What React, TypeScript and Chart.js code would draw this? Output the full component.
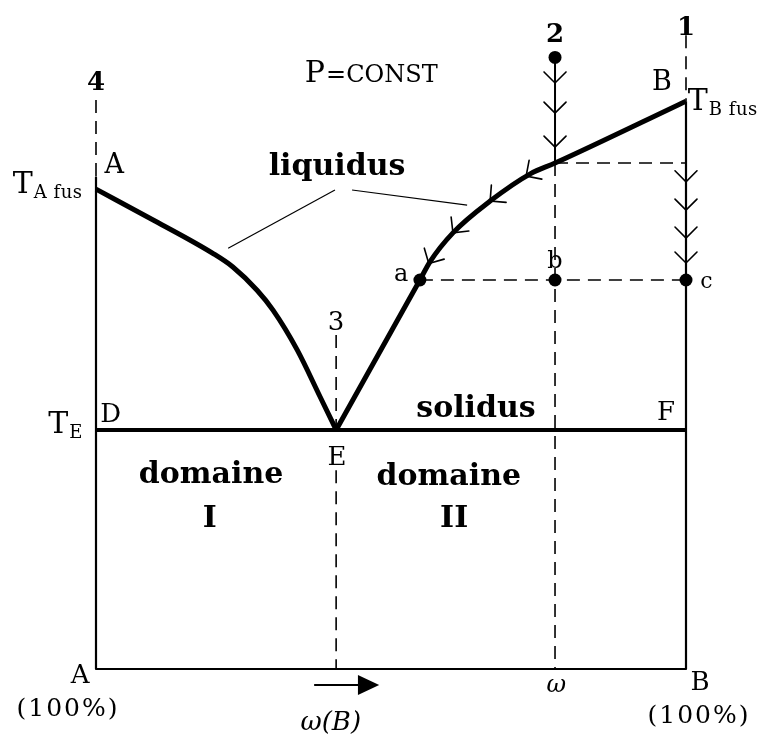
import React, { useEffect, useRef } from "react";
import { Chart, registerables } from "chart.js";

Chart.register(...registerables);

// Binary eutectic diagram: composition ω(B) in %, temperature in relative units (T_B fus = 100)
const liquidusAX = [0, 10, 19.8, 23.2, 27.3, 30, 34.1, 38, 40.7];
const liquidusAT = [84.5, 78.9, 73.2, 70.8, 66.7, 63.2, 56.2, 47.9, 42.1];
const liquidusBX = [40.7, 47.8, 54.9, 56.6, 60.5, 66.8, 73.6, 77.8, 100];
const liquidusBT = [42.1, 55.3, 68.5, 71.7, 76.8, 82.4, 87.2, 89.1, 100];

const T_B_FUS = 100;
const T_E = 42.1;
const X_E = 40.7;
const OMEGA = 77.8; // composition of alloy 2
const T_LIQ_OMEGA = 89.1; // alloy 2 reaches the liquidus
const T_ABC = 68.5; // isotherm a-b-c
const X_POINT_A = 54.9;
const T_START = 107.7; // initial state of alloy 2

// marked states: start of alloy 2, a, b, c
const stateX = [OMEGA, X_POINT_A, OMEGA, 100];
const stateT = [T_START, T_ABC, T_ABC, T_ABC];

// cooling arrows along the verticals 2 and 1, and along the liquidus
const cooling2T = [103.2, 97.9, 91.9];
const cooling1T = [85.8, 80.8, 75.9, 71.5];
const liquidusArrowX = [72.9, 66.8, 60.5, 56.4];
const liquidusArrowT = [86.8, 82.4, 76.8, 71.4];

const AXIS_TOP_A = 86.6;
const GUIDE_TOP_4 = 100.2;
const GUIDE_TOP_1 = 111.6;
const GUIDE_TOP_3 = 58.8;
const GUIDE_GAP_3 = 35.0;

const SERIF = "'DejaVu Serif', 'Liberation Serif', serif";

type Pt = { x: number; y: number };
const pts = (xs: number[], ts: number[]): Pt[] => xs.map((x, i) => ({ x, y: ts[i] }));

type Label = {
  text: string;
  x: number;
  t: number;
  font: string;
  align?: CanvasTextAlign;
  sub?: string;
  subFont?: string;
  spacing?: string;
};

const labels: Label[] = [
  { text: "4", x: 0, t: 102, font: `bold 26px ${SERIF}`, align: "center" },
  { text: "A", x: 3.1, t: 87.3, font: `27px ${SERIF}`, align: "center" },
  { text: "T", sub: "A fus", x: -14.1, t: 83.8, font: `30px ${SERIF}`, subFont: `18px ${SERIF}`, align: "left", spacing: "0.5px" },
  { text: "P", sub: "=CONST", x: 35.4, t: 103.4, font: `30px ${SERIF}`, subFont: `24px ${SERIF}`, align: "left" },
  { text: "liquidus", x: 40.85, t: 87.0, font: `bold 30px ${SERIF}`, align: "center" },
  { text: "B", x: 95.9, t: 102, font: `27px ${SERIF}`, align: "center" },
  { text: "T", sub: "B fus", x: 100.3, t: 98.4, font: `30px ${SERIF}`, subFont: `18px ${SERIF}`, align: "left", spacing: "0.5px" },
  { text: "1", x: 100, t: 111.6, font: `bold 26px ${SERIF}`, align: "center" },
  { text: "2", x: 77.8, t: 110.4, font: `bold 26px ${SERIF}`, align: "center" },
  { text: "a", x: 51.7, t: 68.3, font: `24px ${SERIF}`, align: "center" },
  { text: "b", x: 77.8, t: 70.6, font: `24px ${SERIF}`, align: "center" },
  { text: "c", x: 102.4, t: 67.1, font: `22px ${SERIF}`, align: "left" },
  { text: "3", x: 40.7, t: 59.7, font: `26px ${SERIF}`, align: "center" },
  { text: "D", x: 0.7, t: 43.5, font: `26px ${SERIF}`, align: "left" },
  { text: "T", sub: "E", x: -8.1, t: 41.6, font: `30px ${SERIF}`, subFont: `18px ${SERIF}`, align: "left" },
  { text: "solidus", x: 64.4, t: 44.4, font: `bold 30px ${SERIF}`, align: "center" },
  { text: "F", x: 96.6, t: 43.85, font: `26px ${SERIF}`, align: "center" },
  { text: "E", x: 40.85, t: 35.9, font: `26px ${SERIF}`, align: "center" },
  { text: "domaine", x: 19.5, t: 32.75, font: `bold 30px ${SERIF}`, align: "center" },
  { text: "I", x: 19.3, t: 25.0, font: `bold 30px ${SERIF}`, align: "center" },
  { text: "domaine", x: 59.8, t: 32.4, font: `bold 30px ${SERIF}`, align: "center" },
  { text: "II", x: 60.7, t: 25.0, font: `bold 30px ${SERIF}`, align: "center" },
  { text: "A", x: -2.7, t: -2.5, font: `26px ${SERIF}`, align: "center" },
  { text: "(100%)", x: -4.75, t: -8.3, font: `25px ${SERIF}`, align: "center", spacing: "2px" },
  { text: "B", x: 102.4, t: -3.7, font: `26px ${SERIF}`, align: "center" },
  { text: "(100%)", x: 102.2, t: -9.5, font: `25px ${SERIF}`, align: "center", spacing: "2px" },
  { text: "ω", x: 78.0, t: -4.0, font: `italic 24px ${SERIF}`, align: "center" },
  { text: "ω(B)", x: 39.8, t: -10.7, font: `italic 26px ${SERIF}`, align: "center" },
];

// leader lines from the "liquidus" caption to both branches
const leaderLeftX = [22.4, 40.5];
const leaderLeftT = [74.1, 84.35];
const leaderRightX = [43.4, 62.9];
const leaderRightT = [84.35, 81.7];

// composition arrow under the axis
const arrowX = [37.1, 44.4, 48.0];
const ARROW_T = -2.8;

const annotations = {
  id: "phaseAnnotations",
  afterDatasetsDraw(chart: any) {
    const { ctx } = chart;
    const sx = chart.scales.x;
    const sy = chart.scales.y;
    const px = (v: number) => sx.getPixelForValue(v);
    const py = (v: number) => sy.getPixelForValue(v);
    ctx.save();
    ctx.strokeStyle = "#000";
    ctx.fillStyle = "#000";
    ctx.lineWidth = 1.6;
    ctx.lineCap = "round";

    const vChevron = (cx: number, cy: number) => {
      ctx.beginPath();
      ctx.moveTo(cx - 11, cy - 11);
      ctx.lineTo(cx, cy);
      ctx.lineTo(cx + 11, cy - 11);
      ctx.stroke();
    };
    cooling2T.forEach((t) => vChevron(px(OMEGA), py(t)));
    cooling1T.forEach((t) => vChevron(px(100), py(t)));

    liquidusArrowX.forEach((xv, i) => {
      const tx = px(xv);
      const ty = py(liquidusArrowT[i]);
      let k = 0;
      while (k < liquidusBX.length - 2 && liquidusBX[k + 1] < xv) k++;
      const dx = px(liquidusBX[k + 1]) - px(liquidusBX[k]);
      const dy = py(liquidusBT[k + 1]) - py(liquidusBT[k]);
      const ang = Math.atan2(dy, dx);
      const L = 16;
      ctx.beginPath();
      ctx.moveTo(tx + L * Math.cos(ang - Math.PI / 4), ty + L * Math.sin(ang - Math.PI / 4));
      ctx.lineTo(tx, ty);
      ctx.lineTo(tx + L * Math.cos(ang + Math.PI / 4), ty + L * Math.sin(ang + Math.PI / 4));
      ctx.stroke();
    });

    // composition arrow
    const ay = py(ARROW_T);
    ctx.lineWidth = 2;
    ctx.beginPath();
    ctx.moveTo(px(arrowX[0]), ay);
    ctx.lineTo(px(arrowX[1]), ay);
    ctx.stroke();
    ctx.beginPath();
    ctx.moveTo(px(arrowX[1]), ay - 10);
    ctx.lineTo(px(arrowX[2]), ay);
    ctx.lineTo(px(arrowX[1]), ay + 10);
    ctx.closePath();
    ctx.fill();

    // text
    ctx.textBaseline = "alphabetic";
    labels.forEach((lb) => {
      ctx.font = lb.font;
      (ctx as any).letterSpacing = lb.text.startsWith("(") ? lb.spacing || "0px" : "0px";
      ctx.textAlign = lb.align || "center";
      const x0 = px(lb.x);
      const y0 = py(lb.t);
      ctx.fillText(lb.text, x0, y0);
      if (lb.sub) {
        const w = ctx.measureText(lb.text).width;
        ctx.font = lb.subFont || lb.font;
        (ctx as any).letterSpacing = lb.spacing || "0px";
        ctx.textAlign = "left";
        const drop = lb.text === "P" ? 0 : 5;
        ctx.fillText(lb.sub, x0 + w + 1, y0 + drop);
      }
    });
    (ctx as any).letterSpacing = "0px";
    ctx.restore();
  },
};

const solid = (data: Pt[], width: number) => ({
  data,
  showLine: true,
  borderColor: "#000",
  borderWidth: width,
  pointRadius: 0,
  tension: 0,
  clip: false as const,
  borderJoinStyle: "round" as const,
  borderCapStyle: "butt" as const,
});

const curve = (data: Pt[], width: number) => ({
  ...solid(data, width),
  cubicInterpolationMode: "monotone" as const,
});

const dashed = (data: Pt[]) => ({
  ...solid(data, 1.6),
  borderDash: [13, 8],
});

export default function App() {
  const ref = useRef<HTMLCanvasElement>(null);

  useEffect(() => {
    if (!ref.current) return;
    const chart = new Chart(ref.current, {
      type: "scatter",
      data: {
        datasets: [
          // frame: pure A axis, composition axis, pure B axis
          solid([{ x: 0, y: AXIS_TOP_A }, { x: 0, y: 0 }, { x: 100, y: 0 }, { x: 100, y: T_B_FUS }], 2.2),
          // solidus D-E-F
          solid([{ x: 0, y: T_E }, { x: 100, y: T_E }], 4),
          // liquidus branches A-E and E-B
          curve(pts(liquidusAX, liquidusAT), 5),
          curve(pts(liquidusBX, liquidusBT), 5),
          // alloy 2 above the liquidus
          solid([{ x: OMEGA, y: T_START }, { x: OMEGA, y: T_LIQ_OMEGA }], 2),
          // leader lines
          solid(pts(leaderLeftX, leaderLeftT), 1.2),
          solid(pts(leaderRightX, leaderRightT), 1.2),
          // guides
          dashed([{ x: 0, y: GUIDE_TOP_4 }, { x: 0, y: AXIS_TOP_A }]),
          dashed([{ x: 100, y: GUIDE_TOP_1 }, { x: 100, y: T_B_FUS }]),
          dashed([{ x: OMEGA, y: T_LIQ_OMEGA }, { x: OMEGA, y: 0 }]),
          dashed([{ x: X_E, y: GUIDE_TOP_3 }, { x: X_E, y: T_E }]),
          dashed([{ x: X_E, y: GUIDE_GAP_3 }, { x: X_E, y: 0 }]),
          dashed([{ x: OMEGA, y: T_LIQ_OMEGA }, { x: 100, y: T_LIQ_OMEGA }]),
          dashed([{ x: X_POINT_A, y: T_ABC }, { x: 100, y: T_ABC }]),
          // states
          {
            data: pts(stateX, stateT),
            showLine: false,
            pointRadius: 6.5,
            pointBackgroundColor: "#000",
            pointBorderColor: "#000",
            pointBorderWidth: 0,
            clip: false as const,
          },
        ] as any,
      },
      options: {
        responsive: false,
        animation: false,
        maintainAspectRatio: false,
        layout: { padding: { left: 96, right: 82, top: 33, bottom: 71 } },
        scales: {
          x: { type: "linear", min: 0, max: 100, display: false },
          y: { type: "linear", min: 0, max: 112, display: false },
        },
        plugins: {
          legend: { display: false },
          tooltip: { enabled: false },
        },
        events: [],
      },
      plugins: [annotations],
    });
    return () => chart.destroy();
  }, []);

  return (
    <div style={{ position: "absolute", left: 0, top: 0, width: 768, height: 740, background: "#fff" }}>
      <canvas ref={ref} width={768} height={740} style={{ display: "block" }} />
    </div>
  );
}
